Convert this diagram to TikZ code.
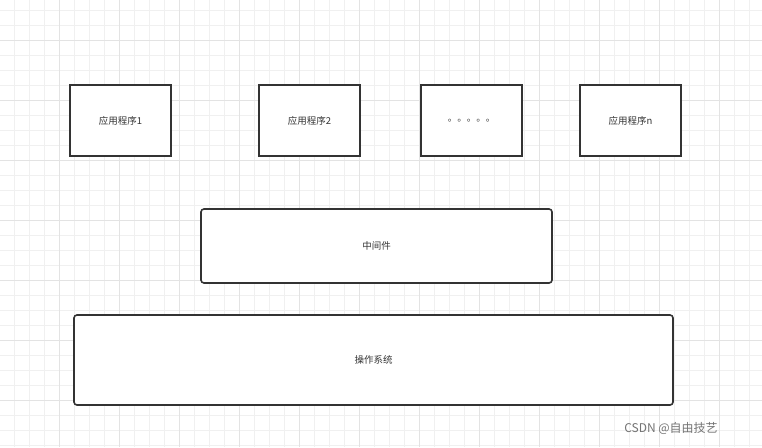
\documentclass[tikz,border=0pt]{standalone}
\usepackage{fontspec}
\newfontfamily\cjk{Noto Sans CJK SC}
\begin{document}
\begin{tikzpicture}[x=1pt,y=-1pt,
  box/.style={draw=black!80,line width=1.6pt,fill=white,font=\cjk\fontsize{9.5}{11}\selectfont,text=black!80},
  rbox/.style={box,rounded corners=3pt}]
\fill[white] (0,0) rectangle (762,447);
\useasboundingbox (0,0) rectangle (762,447);
\foreach \x in {14.5,29.5,...,762} \draw[black!6,line width=0.8pt] (\x,0) -- (\x,447);
\foreach \y in {10,25,...,447} \draw[black!6,line width=0.8pt] (0,\y) -- (762,\y);
\foreach \x in {59.5,119.5,...,762} \draw[black!11,line width=0.9pt] (\x,0) -- (\x,447);
\foreach \y in {40,100,...,447} \draw[black!11,line width=0.9pt] (0,\y) -- (762,\y);
\node[box,minimum width=101,minimum height=71] (a1) at (120.5,120.5) {应用程序1};
\node[box,minimum width=101,minimum height=71] (a2) at (309.5,120.5) {应用程序2};
\node[box,minimum width=101,minimum height=71] (ad) at (471.5,120.5) {。。。。。};
\node[box,minimum width=101,minimum height=71] (an) at (630.5,120.5) {应用程序n};
\node[rbox,minimum width=351,minimum height=74] (mw) at (376.5,246) {中间件};
\node[rbox,minimum width=599,minimum height=90] (os) at (373.5,360) {操作系统};
\node[font=\cjk\fontsize{12}{14}\selectfont,text=black!55] (wm) at (671,428) {CSDN @自由技艺};
\end{tikzpicture}
\end{document}
